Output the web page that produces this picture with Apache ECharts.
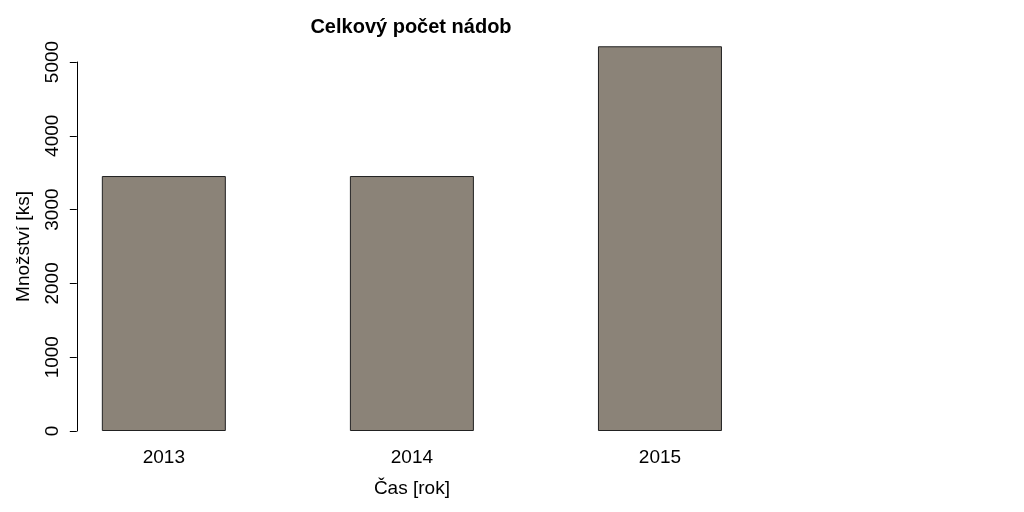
<!DOCTYPE html>
<html><head><meta charset="utf-8">
<script src="https://cdn.jsdelivr.net/npm/echarts@6/dist/echarts.min.js"></script>
<style>html,body{margin:0;padding:0;background:#fff}#c{width:1024px;height:512px}</style>
</head><body><div id="c"></div>
<script>
const categories = ['2013', '2014', '2015'];
const values = [3455, 3455, 5213];
const yTicks = [0, 1000, 2000, 3000, 4000, 5000];
const titleText = 'Celkový počet nádob';
const xTitle = 'Čas [rok]';
const yTitle = 'Množství [ks]';

const FONT = '"Liberation Sans", Arial, sans-serif';
const chart = echarts.init(document.getElementById('c'));
chart.setOption({
  animation: false,
  backgroundColor: '#ffffff',
  title: {
    text: titleText, left: 406, top: 12, textAlign: 'center',
    textStyle: { fontFamily: FONT, fontWeight: 'bold', fontSize: 20, color: '#000' }
  },
  grid: { left: 39.8, right: 240, top: 62, bottom: 81, containLabel: false },
  xAxis: {
    type: 'category', data: categories,
    axisLine: { show: false }, axisTick: { show: false },
    axisLabel: { fontFamily: FONT, fontSize: 19, color: '#000', margin: 17 },
    name: xTitle, nameLocation: 'middle', nameGap: 48,
    nameTextStyle: { fontFamily: FONT, fontSize: 19, color: '#000' }
  },
  yAxis: {
    type: 'value', min: yTicks[0], max: yTicks[yTicks.length - 1], interval: 1000,
    offset: -37,
    splitLine: { show: false },
    axisLine: { show: true, lineStyle: { color: '#000', width: 1 } },
    axisTick: { show: true, length: 7, lineStyle: { color: '#000' } },
    axisLabel: { rotate: 90, fontFamily: FONT, fontSize: 19, color: '#000', margin: 15,
      formatter: v => String(v) },
    name: yTitle, nameLocation: 'middle', nameGap: 44,
    nameTextStyle: { fontFamily: FONT, fontSize: 19, color: '#000' }
  },
  series: [{
    type: 'bar', data: values, barWidth: 124, clip: false,
    itemStyle: { color: '#8B8378', borderColor: '#222', borderWidth: 1 }
  }]
});
</script></body></html>
